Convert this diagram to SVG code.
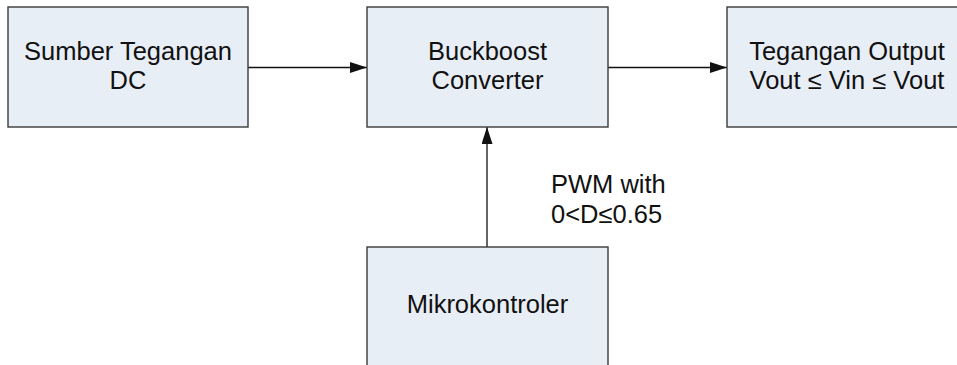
<svg xmlns="http://www.w3.org/2000/svg" width="957" height="365" viewBox="0 0 957 365">
<defs>
<style>
.box{fill:#e8eef6;stroke:#3a3a3a;stroke-width:1.4}
.t{font-family:"Liberation Sans",Arial,sans-serif;font-size:25.5px;fill:#111}
.c{text-anchor:middle}
.ln{stroke:#111;stroke-width:1.3;fill:none}
</style>
<marker id="ah" viewBox="0 0 17 11" refX="17" refY="5.5" markerWidth="17" markerHeight="11" markerUnits="userSpaceOnUse" orient="auto">
<path d="M0,0 L17,5.5 L0,11 Z" fill="#111"/>
</marker>
</defs>
<rect width="957" height="365" fill="#ffffff"/>
<g id="connectors">
<line class="ln" x1="248" y1="67.5" x2="367" y2="67.5" marker-end="url(#ah)"/>
<line class="ln" x1="608" y1="67.5" x2="727" y2="67.5" marker-end="url(#ah)"/>
<line class="ln" x1="487" y1="247" x2="487" y2="127" marker-end="url(#ah)"/>
<text class="t" x="551" y="193">PWM with</text>
<text class="t" x="551" y="223">0&lt;D≤0.65</text>
</g>
<g id="sumber">
<rect class="box" x="8" y="7" width="240" height="120"/>
<text class="t c" x="128" y="60">Sumber Tegangan</text>
<text class="t c" x="128" y="89">DC</text>
</g>
<g id="buckboost">
<rect class="box" x="367" y="7" width="241" height="120"/>
<text class="t c" x="487.5" y="60">Buckboost</text>
<text class="t c" x="487.5" y="89">Converter</text>
</g>
<g id="output">
<rect class="box" x="727" y="7" width="241" height="120"/>
<text class="t c" x="847" y="60">Tegangan Output</text>
<text class="t c" x="847" y="89">Vout ≤ Vin ≤ Vout</text>
</g>
<g id="mikro">
<rect class="box" x="367" y="247" width="241" height="125"/>
<text class="t c" x="487.5" y="313">Mikrokontroler</text>
</g>
</svg>
